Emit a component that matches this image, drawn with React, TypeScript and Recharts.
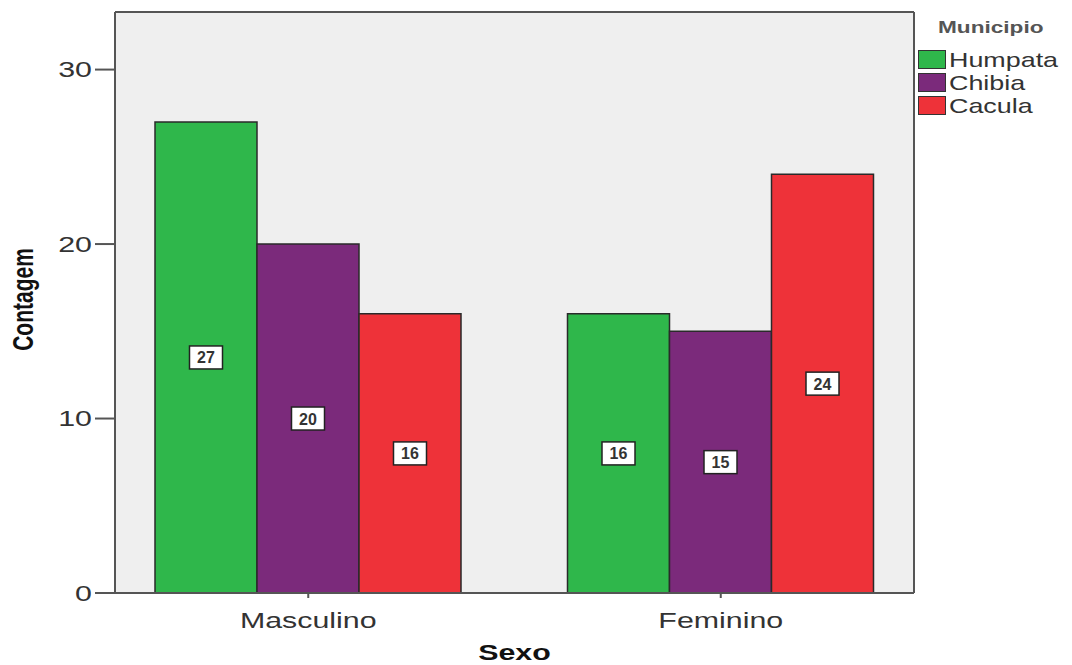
import { BarChart, CartesianGrid, XAxis, YAxis, Bar, LabelList, Label } from 'recharts';

// Dados
const sexos = ['Masculino', 'Feminino'];
const humpata = [27, 16];
const chibia = [20, 15];
const cacula = [16, 24];
const ticksY = [0, 10, 20, 30];

const series = [
    { key: 'Humpata', values: humpata, color: '#2fb74b' },
    { key: 'Chibia', values: chibia, color: '#7b2a7b' },
    { key: 'Cacula', values: cacula, color: '#ee3239' },
];

const data = sexos.map((s, i) => ({
    sexo: s,
    Humpata: humpata[i],
    Chibia: chibia[i],
    Cacula: cacula[i],
}));

const FONT = '"Liberation Sans", Arial, sans-serif';
const SX = 1.38; // o original está esticado na horizontal

// caixinha branca com o valor no meio da barra
const BoxLabel = (props: any) => {
    const { x, y, width, height, value } = props;
    const cx = x + width / 2;
    const cy = y + height / 2;
    const w = 33, h = 23;
    return (
        <g>
            <rect x={cx - w / 2} y={cy - h / 2} width={w} height={h} fill="#ffffff" stroke="#222" strokeWidth={1.5} />
            <text x={cx} y={cy + 6} textAnchor="middle" fontSize={16} fontFamily={FONT} fontWeight="bold" fill="#333">{value}</text>
        </g>
    );
};

const XTick = (props: any) => {
    const { x, y, payload } = props;
    return (
        <text transform={`translate(${x},${y}) scale(${SX},1)`} textAnchor="middle" dy="0.71em"
            fontSize={22} fontFamily={FONT} fill="#333">{payload.value}</text>
    );
};

const YTick = (props: any) => {
    const { x, y, payload } = props;
    return (
        <text transform={`translate(${x},${y}) scale(${SX},1)`} textAnchor="end" dy="0.355em"
            fontSize={22} fontFamily={FONT} fill="#333">{payload.value}</text>
    );
};

const LegendBox = () => (
    <div style={{ position: 'absolute', left: 918, top: 18, fontFamily: FONT, color: '#333' }}>
        <div style={{ fontSize: 17, fontWeight: 'bold', color: '#555', marginLeft: 20, height: 30, transform: `scaleX(1.33)`, transformOrigin: 'left' }}>Municipio</div>
        {series.map(s => (
            <div key={s.key} style={{ display: 'flex', alignItems: 'center', height: 23 }}>
                <div style={{ width: 26, height: 17, background: s.color, border: '1.5px solid #333', marginRight: 3 }} />
                <span style={{ fontSize: 21, transform: `scaleX(1.28)`, transformOrigin: 'left', display: 'inline-block' }}>{s.key}</span>
            </div>
        ))}
    </div>
);

function App() {
    return (
        <div style={{ position: 'absolute', left: 0, top: 0, width: 1072, height: 665, background: '#fff' }}>
            <BarChart width={1072} height={665} data={data} barGap={0} barCategoryGap={53}
                margin={{ top: 12, right: 158, bottom: 0, left: 0 }}>
                {/* fundo cinza + moldura de cima e da direita */}
                <CartesianGrid fill="#efefef" stroke="#555" strokeWidth={2}
                    horizontalCoordinatesGenerator={({ offset }: any) => [offset.top]}
                    verticalCoordinatesGenerator={({ offset }: any) => [offset.left + offset.width]} />
                <XAxis dataKey="sexo" height={72} padding={{ left: -13, right: -13 }}
                    axisLine={{ stroke: '#555', strokeWidth: 2 }} tickLine={{ stroke: '#555', strokeWidth: 2 }} tickSize={5}
                    tick={<XTick />} tickMargin={14}>
                    <Label content={(p: any) => (
                        <text transform={`translate(${p.viewBox.x + p.viewBox.width / 2},660) scale(${SX},1)`} textAnchor="middle"
                            fontSize={22} fontWeight="bold" fontFamily={FONT} fill="#111">Sexo</text>
                    )} />
                </XAxis>
                <YAxis width={115} domain={[0, 33.3]} ticks={ticksY} allowDataOverflow
                    axisLine={{ stroke: '#555', strokeWidth: 2 }} tickLine={{ stroke: '#555', strokeWidth: 2 }} tickSize={20}
                    tick={<YTick />} tickMargin={3}>
                    <Label content={(p: any) => (
                        <text transform={`translate(33,${p.viewBox.y + p.viewBox.height / 2 - 3}) scale(${SX},1) rotate(-90)`} textAnchor="middle"
                            fontSize={21} fontWeight="bold" fontFamily={FONT} fill="#111">Contagem</text>
                    )} />
                </YAxis>
                {series.map(s => (
                    <Bar key={s.key} dataKey={s.key} fill={s.color} stroke="#2a2a2a" strokeWidth={1.5} isAnimationActive={false}>
                        <LabelList dataKey={s.key} content={BoxLabel} />
                    </Bar>
                ))}
            </BarChart>
            <LegendBox />
        </div>
    );
}

export default App;
